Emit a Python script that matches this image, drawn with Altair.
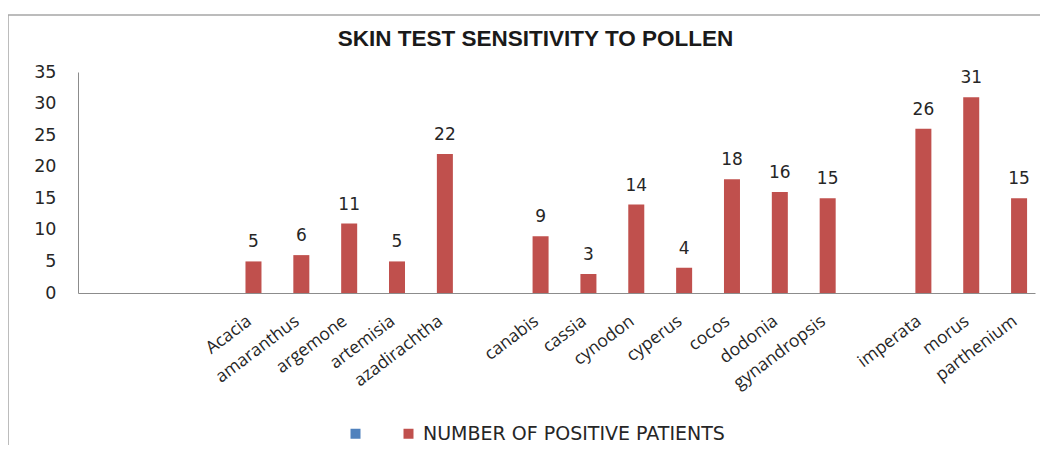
import altair as alt
import pandas as pd

# ---- data ----
categories = ["_1", "_2", "_3", "Acacia", "amaranthus", "argemone", "artemisia",
              "azadirachtha", "_4", "canabis", "cassia", "cynodon", "cyperus",
              "cocos", "dodonia", "gynandropsis", "_5", "imperata", "morus",
              "parthenium"]
patients = [None, None, None, 5, 6, 11, 5, 22, None, 9, 3, 14, 4, 18, 16, 15,
            None, 26, 31, 15]
series = ["", "NUMBER OF POSITIVE PATIENTS"]
series_colors = ["#4F81BD", "#C0504D"]
y_ticks = [0, 5, 10, 15, 20, 25, 30, 35]
title_text = "SKIN TEST SENSITIVITY TO POLLEN"

rows = [{"category": c, "value": v, "series": series[1]}
        for c, v in zip(categories, patients) if v is not None]
df = pd.DataFrame(rows)

text_color = "#262626"
axis_color = "#8c8c8c"

x_enc = alt.X(
    "category:N",
    sort=categories,
    scale=alt.Scale(domain=categories, paddingInner=0.331, paddingOuter=0.1655),
    axis=alt.Axis(
        title=None, labelAngle=-37, labelAlign="right", labelBaseline="middle",
        labelPadding=26, labelOffset=4, ticks=False, domainColor=axis_color,
        labelExpr="indexof(datum.label, '_') == 0 ? '' : datum.label",
        labelFont="Open Sans", labelFontSize=17.5, labelColor=text_color,
        labelLimit=300,
    ),
)
xo_enc = alt.XOffset("series:N", scale=alt.Scale(domain=series))
y_enc = alt.Y(
    "value:Q",
    scale=alt.Scale(domain=[0, 35]),
    axis=alt.Axis(
        title=None, values=y_ticks, grid=False, ticks=False, labelPadding=22,
        domainColor=axis_color, labelFont="DejaVu Sans", labelFontSize=17.5,
        labelColor=text_color,
    ),
)

bars = alt.Chart(df).mark_bar().encode(
    x=x_enc,
    xOffset=xo_enc,
    y=y_enc,
    color=alt.Color(
        "series:N",
        scale=alt.Scale(domain=series, range=series_colors),
        legend=alt.Legend(
            title=None, orient="none", legendX=268, legendY=352,
            direction="horizontal", symbolType="square", symbolSize=100,
            symbolStrokeWidth=0, labelFont="DejaVu Sans", labelFontSize=19,
            labelColor=text_color, columnPadding=29, labelOffset=5,
            labelLimit=500,
        ),
    ),
)

labels = alt.Chart(df).mark_text(
    baseline="bottom", dy=-10, font="DejaVu Sans", fontSize=17, color=text_color
).encode(x=x_enc, xOffset=xo_enc, y=y_enc, text=alt.Text("value:Q"))

frame_data = alt.Data(values=[{"k": 1}])
frame_left = alt.Chart(frame_data).mark_rule(color="#a6a6a6", strokeWidth=1.5).encode(
    x=alt.value(-70), y=alt.value(-57), y2=alt.value(380)
)
frame_top = alt.Chart(frame_data).mark_rule(color="#a6a6a6", strokeWidth=1.5).encode(
    x=alt.value(-70), x2=alt.value(970), y=alt.value(-57)
)

chart = alt.layer(frame_left, frame_top, bars, labels).properties(
    width=957,
    height=221,
    autosize=alt.AutoSizeParams(type="none"),
    padding={"left": 70, "top": 64, "right": 5, "bottom": 152},
    title=alt.TitleParams(
        title_text, font="Liberation Sans", fontSize=22.5, fontWeight="bold",
        anchor="middle", dx=-21, offset=-36, color="#1a1a1a",
    ),
).configure_view(stroke=None)

chart.save("out.html", embed_options={"renderer": "svg", "actions": False})
